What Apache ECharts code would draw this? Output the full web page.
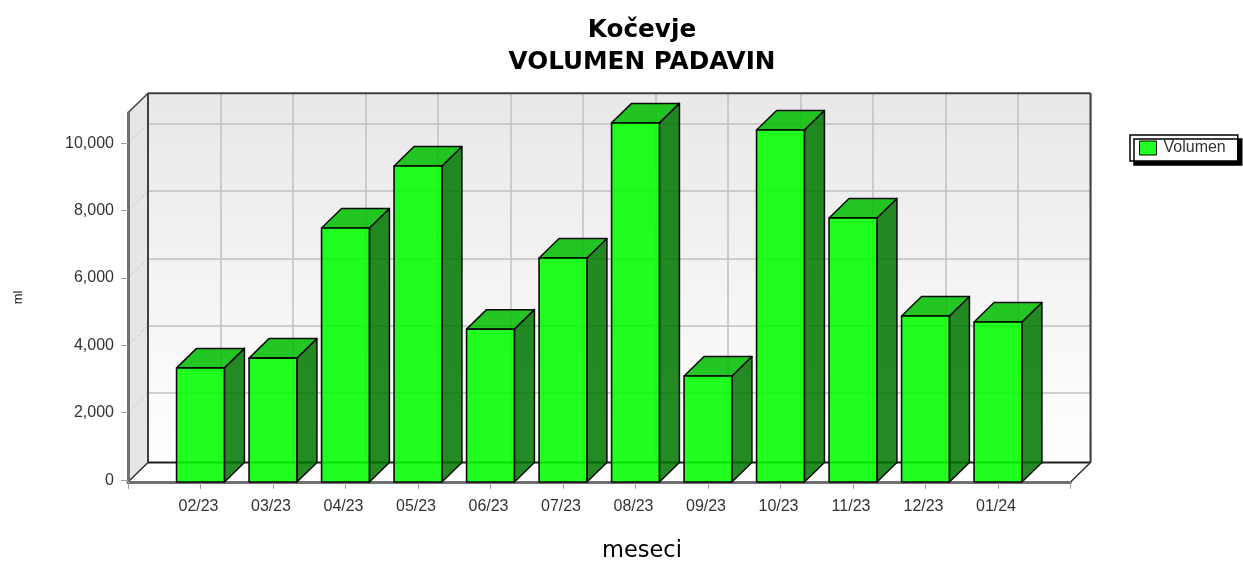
<!DOCTYPE html>
<html>
<head>
<meta charset="utf-8">
<style>html,body{margin:0;padding:0;background:#fff}#c{width:1243px;height:561px}</style>
<script src="https://cdn.jsdelivr.net/npm/echarts@6/dist/echarts.min.js"></script>
</head>
<body>
<div id="c"></div>
<script>
var categories = ['02/23','03/23','04/23','05/23','06/23','07/23','08/23','09/23','10/23','11/23','12/23','01/24'];
var volumen = [3330,3620,7480,9320,4480,6590,10600,3090,10390,7780,4870,4690];
var yTicks = [0,2000,4000,6000,8000,10000];
var yMin = -56;
var yMax = 10902;
var titleText = 'Kočevje\nVOLUMEN PADAVIN';
var xName = 'meseci';
var yName = 'ml';
var seriesName = 'Volumen';

var DX = 20, DY = -19.5;
var axisCats = [''].concat(categories, ['']);
var sans = '"Liberation Sans", Arial, sans-serif';
var head = '"DejaVu Sans", sans-serif';

function poly(points, fill, stroke, w, z) {
  return {type:'polygon', shape:{points:points}, z2:z||0,
    style:{fill:fill, stroke:stroke||null, lineWidth:w||0, lineJoin:'round'}};
}
function line(a, b, stroke, w, dash, z) {
  return {type:'line', shape:{x1:a[0],y1:a[1],x2:b[0],y2:b[1]}, z2:z||0,
    style:{stroke:stroke, lineWidth:w, lineDash:dash||null}};
}
function back(p){ return [p[0]+DX, p[1]+DY]; }

function renderFrame(params, api) {
  var last = axisCats.length-1;
  var lb = api.coord([0,yMin]), rb = api.coord([last,yMin]), lt = api.coord([0,yMax]), rt = api.coord([last,yMax]);
  var kids = [];
  kids.push(poly([lt, back(lt), back(lb), lb], '#e6e6e6'));
  yTicks.forEach(function(t){
    if (t===0) return;
    var p = api.coord([0,t]);
    kids.push(line(p, back(p), '#c8c8c8', 1, [4,2]));
  });
  kids.push(poly([lb, rb, back(rb), back(lb)], '#ffffff'));
  axisCats.forEach(function(c,i){
    var p = api.coord([i,yMin]);
    kids.push(line(p, back(p), '#ececec', 1));
  });
  kids.push(line(back(lb), back(rb), '#202020', 2));
  kids.push(line(back(lt), back(lb), '#404040', 2));
  kids.push(line(back(lt), back(rt), '#404040', 2));
  kids.push(line(back(rt), back(rb), '#404040', 2));
  kids.push(line(lb, back(lb), '#303030', 1.5));
  kids.push(line(rb, back(rb), '#303030', 1.5));
  kids.push(line(lt, back(lt), '#404040', 1.5));
  return {type:'group', children:kids};
}

function renderBar(params, api) {
  var i = api.value(0), v = api.value(1);
  var top = api.coord([i,v]), base = api.coord([i,yMin]);
  var w = api.size([1,0])[0]*0.66;
  var l = top[0]-w/2, r = top[0]+w/2, t = top[1], b = base[1];
  var edge = '#0a0a0a';
  return {type:'group', children:[
    poly([[r,t],[r+DX,t+DY],[r+DX,b+DY],[r,b]], 'rgba(0,120,0,0.86)', edge, 1.5),
    poly([[l,t],[l+DX,t+DY],[r+DX,t+DY],[r,t]], 'rgba(0,190,0,0.86)', edge, 1.5),
    poly([[l,t],[r,t],[r,b],[l,b]], 'rgba(0,255,0,0.87)', edge, 1.6)
  ]};
}

var wallFill = {type:'linear',x:0,y:0,x2:0,y2:1,colorStops:[{offset:0,color:'#e8e8e8'},{offset:1,color:'#ffffff'}]};

var chart = echarts.init(document.getElementById('c'), null, {renderer:'canvas'});
chart.setOption({
  animation:false,
  backgroundColor:'#ffffff',
  title:[
    {text:titleText, left:642, top:15, padding:0, textAlign:'center',
     textStyle:{fontFamily:head, fontWeight:'bold', fontSize:24.7, lineHeight:32, color:'#000'}},
    {text:xName, left:642, top:540, padding:0, textAlign:'center',
     textStyle:{fontFamily:head, fontWeight:'normal', fontSize:22.5, color:'#000'}}
  ],
  legend:{
    data:[{name:seriesName, icon:'rect', itemStyle:{color:'#22ff22', borderColor:'#000', borderWidth:1}}],
    left:1130, top:135, orient:'vertical', padding:[5,12,5,9],
    itemWidth:17, itemHeight:14, itemGap:0,
    backgroundColor:'#fff', borderColor:'#000', borderWidth:1.5,
    shadowColor:'#000', shadowBlur:0, shadowOffsetX:4, shadowOffsetY:4,
    selectedMode:false,
    textStyle:{fontFamily:sans, fontSize:16, color:'#333', padding:[0,0,0,2]}
  },
  grid:[
    {left:128, right:172.5, top:112.7, bottom:79, outerBoundsMode:'none'},
    {left:148, right:152.5, top:93.2, bottom:98.5, outerBoundsMode:'none', show:true, backgroundColor:wallFill, borderWidth:0}
  ],
  xAxis:[
    {type:'category', gridIndex:0, data:axisCats, boundaryGap:false, z:2,
     axisLine:{onZero:false, lineStyle:{color:'#707070', width:3}},
     axisTick:{show:true, length:7, inside:false, lineStyle:{color:'#a0a0a0', width:1}},
     axisLabel:{fontFamily:sans, fontSize:16, color:'#333', margin:17, interval:0, hideOverlap:false, padding:[0,4,0,0]},
     splitLine:{show:false}},
    {type:'category', gridIndex:1, data:axisCats, boundaryGap:false,
     axisLine:{show:false, onZero:false}, axisTick:{show:false}, axisLabel:{show:false},
     splitLine:{show:true, lineStyle:{color:'#c0c0c0', width:1.5}}}
  ],
  yAxis:[
    {type:'value', gridIndex:0, min:yMin, max:yMax, z:2,
     name:yName, nameLocation:'middle', nameGap:103, nameRotate:90,
     nameTextStyle:{fontFamily:sans, fontSize:13, color:'#222'},
     axisLine:{show:true, lineStyle:{color:'#707070', width:3}},
     axisTick:{show:true, length:7, customValues:yTicks, lineStyle:{color:'#a0a0a0', width:1}},
     axisLabel:{fontFamily:sans, fontSize:16, color:'#333', margin:14, customValues:yTicks,
       formatter:function(v){return v.toLocaleString('en-US');}},
     splitLine:{show:false}},
    {type:'value', gridIndex:1, min:yMin, max:yMax,
     axisLine:{show:false}, axisTick:{show:false, customValues:yTicks.slice(1)}, axisLabel:{show:false, customValues:yTicks.slice(1)},
     splitLine:{show:true, lineStyle:{color:'#c0c0c0', width:1.5}}}
  ],
  series:[
    {type:'custom', name:'frame', xAxisIndex:0, yAxisIndex:0, z:1, silent:true,
     renderItem:renderFrame, data:[[0,0]], encode:{x:0,y:1}},
    {type:'custom', name:seriesName, xAxisIndex:0, yAxisIndex:0, z:3, silent:true,
     itemStyle:{color:'#22ff22'},
     renderItem:renderBar,
     data:volumen.map(function(v,i){return [i+1,v];}), encode:{x:0,y:1}}
  ]
});
</script>
</body>
</html>
